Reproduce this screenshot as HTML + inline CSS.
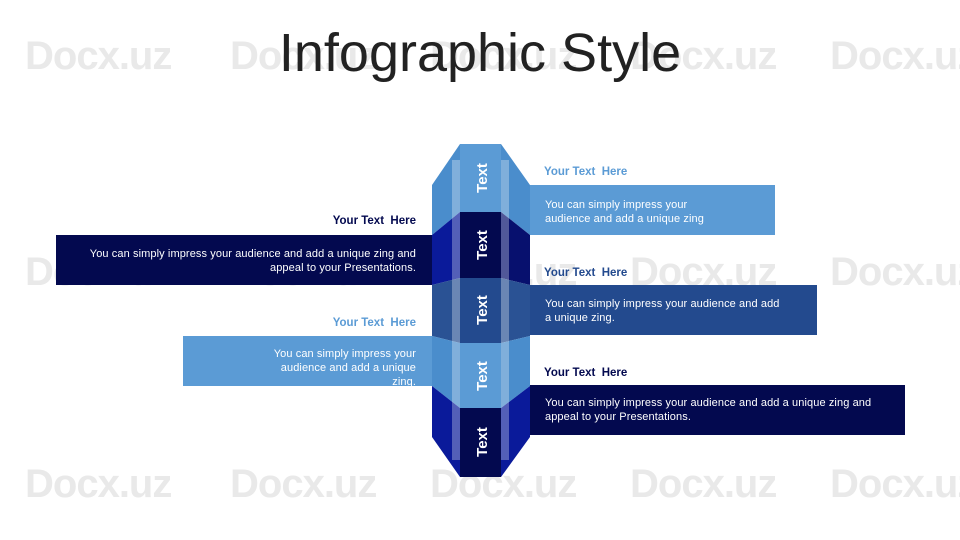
<!DOCTYPE html>
<html><head><style>
body{margin:0;width:960px;height:540px;background:#fff;position:relative;overflow:hidden;font-family:"Liberation Sans",sans-serif}
.wm{position:absolute;font-size:40px;color:#e9e9e9;font-weight:bold;letter-spacing:-1px}
.t{position:absolute;font-size:11px;letter-spacing:0.1px}
.h{position:absolute;font-size:11.5px;font-weight:bold}
</style></head><body>
<div class="wm" style="left:25px;top:34px">Docx.uz</div>
<div class="wm" style="left:230px;top:34px">Docx.uz</div>
<div class="wm" style="left:430px;top:34px">Docx.uz</div>
<div class="wm" style="left:630px;top:34px">Docx.uz</div>
<div class="wm" style="left:830px;top:34px">Docx.uz</div>
<div class="wm" style="left:25px;top:250px">Docx.uz</div>
<div class="wm" style="left:230px;top:250px">Docx.uz</div>
<div class="wm" style="left:430px;top:250px">Docx.uz</div>
<div class="wm" style="left:630px;top:250px">Docx.uz</div>
<div class="wm" style="left:830px;top:250px">Docx.uz</div>
<div class="wm" style="left:25px;top:462px">Docx.uz</div>
<div class="wm" style="left:230px;top:462px">Docx.uz</div>
<div class="wm" style="left:430px;top:462px">Docx.uz</div>
<div class="wm" style="left:630px;top:462px">Docx.uz</div>
<div class="wm" style="left:830px;top:462px">Docx.uz</div>
<div style="position:absolute;left:0;width:960px;top:22px;text-align:center;font-size:54px;color:#222">Infographic Style</div>

<svg style="position:absolute;left:0;top:0" width="960" height="540">
<rect x="56" y="235" width="376" height="50" fill="#03094f"/>
<rect x="183" y="336" width="249" height="50" fill="#5b9bd5"/>
<rect x="530" y="185" width="245" height="50" fill="#5b9bd5"/>
<rect x="530" y="285" width="287" height="50" fill="#234a8e"/>
<rect x="530" y="385" width="375" height="50" fill="#03094f"/>
<polygon points="432,185 460,144 460,212 432,235" fill="#4a8dcc"/>
<polygon points="432,235 460,212 460,278 432,285" fill="#0a1a9a"/>
<polygon points="432,285 460,278 460,343 432,336" fill="#2a5294"/>
<polygon points="432,336 460,343 460,408 432,386" fill="#4a8dcc"/>
<polygon points="432,386 460,408 460,477 432,437" fill="#0a1a9a"/>
<polygon points="530,185 501,144 501,212 530,235" fill="#4a8dcc"/>
<polygon points="530,235 501,212 501,278 530,285" fill="#07106e"/>
<polygon points="530,285 501,278 501,343 530,336" fill="#2a5294"/>
<polygon points="530,336 501,343 501,408 530,386" fill="#4a8dcc"/>
<polygon points="530,386 501,408 501,477 530,437" fill="#0a1a9a"/>
<rect x="460" y="144" width="41" height="68" fill="#5b9bd5"/>
<rect x="460" y="212" width="41" height="66" fill="#03094f"/>
<rect x="460" y="278" width="41" height="65" fill="#234a8e"/>
<rect x="460" y="343" width="41" height="65" fill="#5b9bd5"/>
<rect x="460" y="408" width="41" height="69" fill="#03094f"/>
<rect x="452" y="160" width="8" height="300" fill="#ffffff" opacity="0.3"/>
<rect x="501" y="160" width="8" height="300" fill="#ffffff" opacity="0.3"/>
<g fill="#fff" font-size="15" font-weight="bold" font-family="Liberation Sans">
<text transform="translate(487,178) rotate(-90)" text-anchor="middle">Text</text>
<text transform="translate(487,245) rotate(-90)" text-anchor="middle">Text</text>
<text transform="translate(487,310) rotate(-90)" text-anchor="middle">Text</text>
<text transform="translate(487,376) rotate(-90)" text-anchor="middle">Text</text>
<text transform="translate(487,442) rotate(-90)" text-anchor="middle">Text</text>
</g>
</svg>

<div class="h" style="right:544px;top:215px;color:#03094f">Your Text&nbsp; Here</div>
<div class="t" style="right:544px;top:247px;width:335px;text-align:right;color:#fff;line-height:14px">You can simply impress your audience and add a unique zing and appeal to your Presentations.</div>
<div class="h" style="right:544px;top:317px;color:#5b9bd5">Your Text&nbsp; Here</div>
<div class="t" style="right:544px;top:347px;width:158px;text-align:right;color:#fff;line-height:14px">You can simply impress your audience and add a unique zing.</div>
<div class="h" style="left:544px;top:166px;color:#5b9bd5">Your Text&nbsp; Here</div>
<div class="t" style="left:545px;top:198px;width:175px;color:#fff;line-height:14px">You can simply impress your audience and add a unique zing</div>
<div class="h" style="left:544px;top:267px;color:#234a8e">Your Text&nbsp; Here</div>
<div class="t" style="left:545px;top:297px;width:235px;color:#fff;line-height:14px">You can simply impress your audience and add a unique zing.</div>
<div class="h" style="left:544px;top:367px;color:#03094f">Your Text&nbsp; Here</div>
<div class="t" style="left:545px;top:396px;width:340px;color:#fff;line-height:14px">You can simply impress your audience and add a unique zing and appeal to your Presentations.</div>
</body></html>
